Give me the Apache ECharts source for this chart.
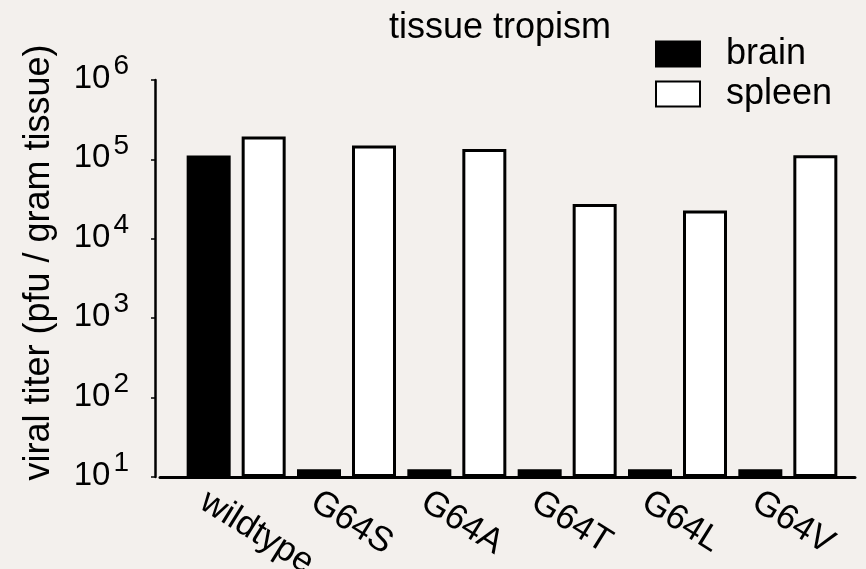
<!DOCTYPE html>
<html>
<head>
<meta charset="utf-8">
<script src="https://cdn.jsdelivr.net/npm/echarts@6/dist/echarts.min.js"></script>
<style>
html,body{margin:0;padding:0;background:#f3f0ed;}
#chart{width:866px;height:569px;}
</style>
</head>
<body>
<div id="chart"></div>
<script>
var categories = ['wildtype', 'G64S', 'G64A', 'G64T', 'G64L', 'G64V'];
var brain = [112000, 12.5, 12.5, 12.5, 12.5, 12.5];
var spleen = [194000, 150000, 135000, 27400, 22700, 113000];
var yMin = 10;
var yMax = 1000000;

var FONT = '"Liberation Sans", Arial, Helvetica, sans-serif';
var chart = echarts.init(document.getElementById('chart'));

var option = {
  backgroundColor: '#f3f0ed',
  animation: false,
  textStyle: { fontFamily: FONT, color: '#000' },
  title: {
    text: 'tissue tropism',
    left: 389,
    top: 10,
    padding: 0,
    textStyle: { fontFamily: FONT, fontSize: 36, fontWeight: 'normal', color: '#000' }
  },
  legend: {
    orient: 'vertical',
    left: 655,
    top: 36,
    padding: 0,
    itemWidth: 44,
    itemHeight: 25,
    itemGap: 4,
    icon: 'rect',
    textStyle: { fontFamily: FONT, fontSize: 36, color: '#000', padding: [0, 0, 0, 21] },
    data: ['brain', 'spleen']
  },
  grid: [
    { left: 181, top: 80, width: 662, height: 397, containLabel: false, outerBoundsMode: 'none' },
    { left: 160, top: 80, width: 695, height: 397, containLabel: false, outerBoundsMode: 'none' },
    { left: 148, top: 80, width: 662, height: 397, containLabel: false, outerBoundsMode: 'none' }
  ],
  xAxis: [
    {
      type: 'category', gridIndex: 0, data: categories,
      axisLine: { show: false }, axisTick: { show: false }, axisLabel: { show: false }
    },
    {
      type: 'value', gridIndex: 1, min: 0, max: 1,
      axisLine: { show: true, onZero: false, lineStyle: { color: '#000', width: 3 } },
      axisTick: { show: false }, axisLabel: { show: false }, splitLine: { show: false }
    },
    {
      type: 'category', gridIndex: 2, data: categories,
      axisLine: { show: false }, axisTick: { show: false },
      axisLabel: {
        show: true, rotate: -32, margin: 22, interval: 0,
        fontFamily: FONT, fontSize: 35, color: '#000'
      }
    }
  ],
  yAxis: [
    {
      type: 'log', logBase: 10, gridIndex: 0, min: yMin, max: yMax, startValue: yMin,
      offset: 26,
      name: 'viral titer (pfu / gram tissue)',
      nameLocation: 'middle',
      nameGap: 98,
      nameTextStyle: { fontFamily: FONT, fontSize: 36, color: '#000', padding: [0, 0, 0, 32] },
      axisLine: { show: true, lineStyle: { color: '#000', width: 2.5 } },
      axisTick: { show: true, inside: false, length: 4, lineStyle: { color: '#000', width: 1.5 } },
      minorTick: { show: false },
      splitLine: { show: false },
      axisLabel: {
        margin: 26,
        padding: [0, 0, 2, 0],
        formatter: function (v) {
          var e = Math.round(Math.log10(v));
          return '{b|10}{s|' + e + '}';
        },
        rich: {
          b: { fontFamily: FONT, fontSize: 33, color: '#000', lineHeight: 33, verticalAlign: 'bottom' },
          s: { fontFamily: FONT, fontSize: 28, color: '#000', lineHeight: 28, verticalAlign: 'bottom', padding: [0, 0, 15, 3] }
        }
      }
    },
    { type: 'value', gridIndex: 1, show: false },
    { type: 'value', gridIndex: 2, show: false }
  ],
  series: [
    {
      name: 'brain', type: 'bar', xAxisIndex: 0, yAxisIndex: 0,
      data: brain, barWidth: 44, barGap: '25%', clip: true,
      itemStyle: { color: '#000', borderColor: '#000', borderWidth: 3 }
    },
    {
      name: 'spleen', type: 'bar', xAxisIndex: 0, yAxisIndex: 0,
      data: spleen, barWidth: 44, barGap: '25%', clip: true,
      itemStyle: { color: '#fff', borderColor: '#000', borderWidth: 3 }
    }
  ]
};
chart.setOption(option);
</script>
</body>
</html>
